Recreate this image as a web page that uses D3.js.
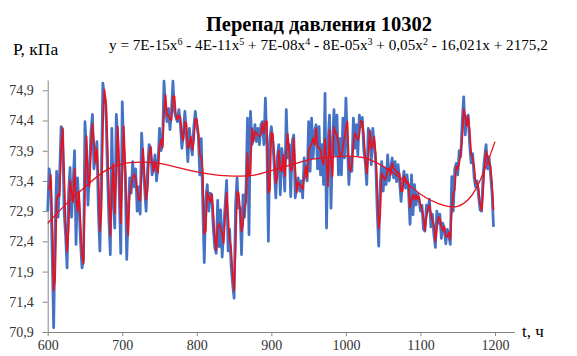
<!DOCTYPE html>
<html>
<head>
<meta charset="utf-8">
<script src="https://cdn.jsdelivr.net/npm/d3@7"></script>
<style>
  html, body { margin: 0; padding: 0; background: #fff; }
  svg { display: block; }
  text { font-family: "Liberation Serif", "Times New Roman", serif; }
</style>
</head>
<body>
<svg id="chart" width="577" height="356"></svg>
<script>
// Measured differential pressure, every 2 hours from t = 600 h
const hours = d3.range(600, 1200, 2);
const pressure = [
  72.9, 73.6, 73.4, 72.2, 70.97, 72.6, 73.56, 72.8, 73.5, 74.3,
  74.25, 72.9, 72.5, 71.96, 73.2, 73.62, 72.8, 73.3, 73.9, 72.35,
  73.45, 73.0, 72.4, 71.96, 72.1, 74.38, 73.9, 73.0, 73.6, 74.2,
  74.5, 73.6, 73.8, 74.05, 72.9, 72.24, 73.5, 75.02, 74.8, 74.66,
  73.6, 72.8, 72.18, 74.27, 73.1, 72.62, 74.5, 74.1, 73.2, 72.2,
  74.71, 73.9, 73.5, 72.1, 72.9, 73.45, 73.2, 73.72, 73.3, 73.6,
  72.9, 73.3, 72.85, 74.19, 73.67, 73.28, 72.9, 73.6, 74.0, 73.94,
  73.5, 73.61, 73.83, 73.4, 73.67, 74.27, 73.9, 74.0, 75.05, 74.6,
  74.38, 74.6, 74.25, 74.55, 75.05, 74.55, 74.45, 74.38, 74.58, 74.33,
  73.94, 74.2, 74.55, 74.16, 73.72, 74.27, 74.0, 73.83, 74.3, 74.55,
  74.3, 74.16, 73.5, 74.1, 73.0, 72.05, 73.1, 73.34, 72.9, 73.2,
  73.17, 72.64, 72.3, 72.2, 73.08, 72.31, 72.92, 72.14, 72.6, 73.0,
  73.41, 72.24, 72.6, 72.0, 71.7, 71.46, 73.0, 73.45, 72.95, 72.95,
  72.18, 73.17, 72.8, 73.28, 74.44, 72.51, 74.55, 74.0, 74.1, 74.33,
  74.05, 74.27, 74.0, 74.33, 74.38, 74.0, 74.77, 74.0, 72.4, 74.1,
  74.3, 74.05, 73.6, 73.12, 73.8, 74.0, 73.17, 73.94, 73.72, 73.23,
  74.58, 73.78, 74.0, 73.14, 74.05, 74.16, 73.12, 73.3, 73.45, 73.23,
  73.4, 73.12, 73.78, 73.5, 73.4, 74.38, 73.56, 74.44, 73.78, 74.22,
  74.33, 73.6, 74.3, 73.5, 74.0, 73.34, 74.85, 72.62, 74.0, 74.49,
  72.95, 74.0, 74.58, 73.83, 74.49, 73.5, 74.1, 73.5, 74.44, 73.78,
  74.77, 74.0, 73.34, 73.78, 73.56, 74.44, 73.94, 74.33, 73.83, 74.49,
  74.3, 74.45, 73.9, 73.7, 73.34, 74.27, 74.2, 73.67, 74.27, 74.0,
  73.7, 72.9, 72.32, 73.34, 73.72, 73.23, 73.61, 73.34, 73.83, 73.4,
  73.6, 73.78, 73.45, 73.72, 73.39, 73.67, 73.39, 73.06, 73.4, 73.56,
  73.28, 73.5, 73.23, 72.68, 73.5, 72.84, 73.34, 73.0, 73.19, 73.1,
  72.9, 73.0, 72.6, 72.57, 73.0, 72.9, 73.1, 72.64, 72.85, 72.51,
  72.3, 72.9, 72.7, 72.85, 72.45, 72.7, 72.6, 72.36, 72.6, 72.5,
  72.35, 73.47, 72.9, 73.6, 73.69, 73.5, 73.9, 73.8, 74.38, 74.79,
  74.16, 74.45, 74.49, 74.0, 73.7, 73.85, 73.45, 73.3, 73.4, 73.14,
  72.92, 72.9, 73.5, 73.78, 74.0, 73.6, 73.8, 73.5, 73.2, 72.64
];

// Polynomial (6th order) trendline, sampled along the time axis
const trendHours = [600, 625, 650, 675, 700, 725, 750, 775, 800, 825, 850, 875, 900,
                    925, 950, 975, 1000, 1025, 1050, 1075, 1100, 1125, 1150, 1175, 1200];
const trendValues = [72.70, 73.02, 73.30, 73.55, 73.68, 73.71, 73.69, 73.62, 73.55, 73.50,
                     73.48, 73.49, 73.57, 73.66, 73.75, 73.79, 73.81, 73.78, 73.64, 73.43,
                     73.18, 73.02, 72.98, 73.28, 74.05];

const xTicks = [600, 700, 800, 900, 1000, 1100, 1200];
const yTicks = [70.9, 71.4, 71.9, 72.4, 72.9, 73.4, 73.9, 74.4, 74.9];

const titleText = "Перепад давления 10302";
const yAxisTitle = "Р, кПа";
const xAxisTitle = "t, ч";
// Trendline equation: [text, superscript] pieces
const equationParts = [
  ["y = 7E-15x", "6"], [" - 4E-11x", "5"], [" + 7E-08x", "4"],
  [" - 8E-05x", "3"], [" + 0,05x", "2"], [" - 16,021x + 2175,2", null]
];

// Moving-average trendline (period 2), as in the spreadsheet
const maPeriod = 2;

const svg = d3.select("#chart");
const x = d3.scaleLinear().domain([600, 1226]).range([47.7, 514.4]);
const y = d3.scaleLinear().domain([70.9, 75.07]).range([332, 80]);

const fmtY = d => d3.format(".1f")(d).replace(".", ",");

// Axes
const xAxis = svg.append("g")
  .attr("transform", `translate(0,${y(70.9)})`)
  .call(d3.axisBottom(x).tickValues(xTicks).tickFormat(d3.format("d"))
    .tickSize(4).tickSizeOuter(0).tickPadding(4));
const yAxis = svg.append("g")
  .attr("transform", `translate(${x(600)},0)`)
  .call(d3.axisLeft(y).tickValues(yTicks).tickFormat(fmtY)
    .tickSize(5).tickSizeOuter(0).tickPadding(9));

[xAxis, yAxis].forEach(g => {
  g.select(".domain").attr("stroke", "#868686");
  g.selectAll(".tick line").attr("stroke", "#868686");
  g.selectAll(".tick text")
    .attr("fill", "#333")
    .style("font-family", '"Liberation Serif", serif')
    .style("font-size", "14px");
});

const series = hours.map((h, i) => ({ h, v: pressure[i] }));
const movingAvg = series.slice(maPeriod - 1).map((d, i) => ({
  h: d.h,
  v: d3.mean(pressure.slice(i, i + maPeriod))
}));
const trend = trendHours.map((h, i) => ({ h, v: trendValues[i] }));

const line = d3.line().x(d => x(d.h)).y(d => y(d.v));

svg.append("path")
  .datum(series)
  .attr("fill", "none")
  .attr("stroke", "#4472C4")
  .attr("stroke-width", 2.75)
  .attr("stroke-linejoin", "round")
  .attr("d", line);

svg.append("path")
  .datum(movingAvg)
  .attr("fill", "none")
  .attr("stroke", "#E8121E")
  .attr("stroke-width", 1.7)
  .attr("stroke-linejoin", "round")
  .attr("d", line);

svg.append("path")
  .datum(trend)
  .attr("fill", "none")
  .attr("stroke", "#E8121E")
  .attr("stroke-width", 1.3)
  .attr("d", d3.line().x(d => x(d.h)).y(d => y(d.v)).curve(d3.curveNatural));

// Titles
svg.append("text")
  .attr("x", 319).attr("y", 31)
  .attr("text-anchor", "middle")
  .style("font-weight", "bold")
  .style("font-size", "20.5px")
  .attr("fill", "#000")
  .text(titleText);

svg.append("text")
  .attr("x", 13).attr("y", 55)
  .style("font-size", "17.5px")
  .attr("fill", "#000")
  .text(yAxisTitle);

svg.append("text")
  .attr("x", 522).attr("y", 337)
  .style("font-size", "17px")
  .attr("fill", "#000")
  .text(xAxisTitle);

// Equation: superscripts raised, following text returned to baseline
const eq = svg.append("text")
  .attr("x", 109).attr("y", 50)
  .style("font-size", "15.2px")
  .attr("fill", "#000");
let raised = false;
equationParts.forEach(([base, sup]) => {
  eq.append("tspan").attr("dy", raised ? 5.5 : 0).text(base);
  raised = false;
  if (sup) {
    eq.append("tspan").attr("dy", -5.5).style("font-size", "10px").text(sup);
    raised = true;
  }
});
</script>
</body>
</html>
